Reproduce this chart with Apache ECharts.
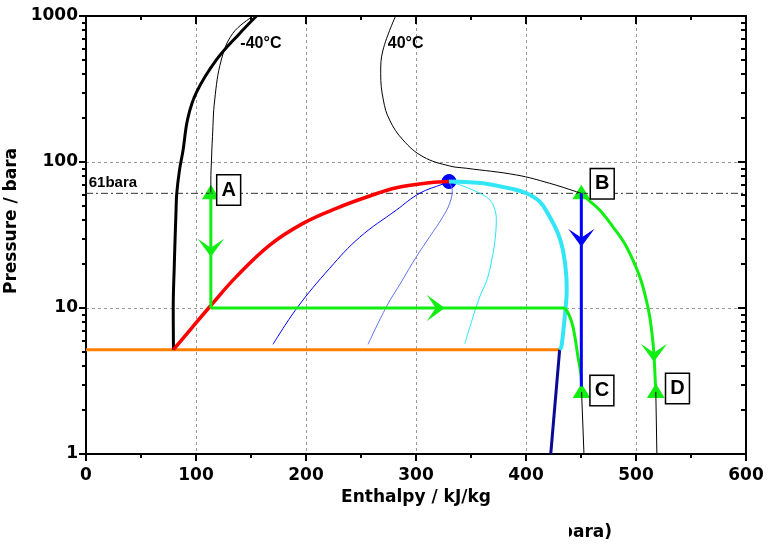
<!DOCTYPE html>
<html>
<head>
<meta charset="utf-8">
<script src="https://cdn.jsdelivr.net/npm/echarts@6/dist/echarts.min.js"></script>
<style>
html, body { margin: 0; padding: 0; background: #fff; }
#chart { width: 772px; height: 549px; }
</style>
</head>
<body>
<div id="chart"></div>
<script>
// all points are [enthalpy kJ/kg, pressure bara]
const meltLine = [[79.5, 5.18], [79.3, 10], [80.3, 20], [81, 30], [81.8, 45], [82.5, 61], [85, 88], [88.2, 120], [92.6, 200], [100.4, 300], [118.5, 500], [139.7, 760], [155, 1000]]
const isoMinus40Liquid = [[113.5, 62], [113.5, 75], [114, 100], [115, 150], [117, 266], [123, 500], [133.4, 760], [150, 975]]
const satLiquid = [[79.5, 5.18], [95.5, 7.2], [112.5, 10.2], [136.7, 16.4], [167, 27], [197.3, 38], [227.6, 48.2], [257.9, 58.5], [282.2, 66.7], [312.5, 72.1], [330, 73.5]]
const satVapor = [[330, 73.5], [345, 73], [361, 71.5], [385.2, 66], [400.4, 61.1], [412.5, 53.5], [421.5, 42.2], [429.1, 32.4], [433.6, 24.9], [436.7, 16.4], [437, 13], [436.1, 10.2], [432.2, 5.43], [430.6, 5.18]]
const sublimation = [[430.6, 5.18], [422.5, 1]]
const triplePoint = [[0, 5.18], [430.6, 5.18]]
const quality1 = [[170, 5.64], [191.8, 10], [221.5, 18.7], [248.8, 30.5], [282.2, 46.9], [303.4, 61.1], [324.5, 70.7], [330, 73.5]]
const quality2 = [[256.4, 5.64], [273.1, 10.2], [286.7, 15.1], [300.4, 22.5], [312.5, 30.8], [324.5, 42.2], [330.6, 52.1], [333, 64], [330, 73.5]]
const quality3 = [[330, 73.5], [342.7, 68.5], [357.9, 61.1], [366, 56], [371, 49], [373, 40], [372, 30], [370, 23.7], [365, 16], [357.9, 11.9], [351, 8.3], [344.3, 5.67]]
const iso40 = [[281.5, 1000], [270, 585], [267.9, 405], [270.3, 266], [276, 194], [288.2, 141.5], [306.4, 108.7], [330.6, 93.9], [345.8, 90.6], [391.3, 81.5], [421.5, 71.5], [445.8, 62.6], [450.3, 61]]
const tailC = [[450.5, 2.67], [452.7, 1]]
const tailD = [[518, 2.67], [519, 1]]
const line61 = [[0, 61], [600, 61]]

// cycle
const pathA = [[113.5, 61], [113.5, 10]]
const evaporator = [[113.5, 10], [435.2, 10]]
const superheatC = [[435.2, 10], [439, 9], [442.7, 7.45], [447.3, 4.6], [450.4, 3.2], [450.5, 2.67]]
const pathBD = [[450.3, 61], [458, 54], [467, 46.9], [479, 36], [491.3, 26.3], [503.4, 16.4], [509.4, 11.3], [512.5, 8.7], [515.5, 5.73], [516.5, 4.5], [518, 2.67]]
const pathBC = [[450.3, 61], [450.3, 2.9]]

const criticalPoint = [[330, 73.5]]
const triangles = [[113.5, 62], [450.3, 62], [450.5, 2.7], [518, 2.7]]
const greenDownArrows = [[113.5, 25.6], [516.3, 4.9]]
const greenRightArrows = [[318.5, 10]]
const blueDownArrows = [[450.3, 30]]

const boxNames = ['A', 'B', 'C', 'D']
const boxH = [129.7, 469.3, 469, 537.7]
const boxP = [64.3, 70.9, 2.72, 2.81]
const noteNames = ['-40°C', '40°C']
const noteH = [159, 290.6]
const noteP = [643, 643]

const xMin = 0, xMax = 600, xStep = 100
const yMin = 1, yMax = 1000
const yMinorTicks = [2, 3, 4, 5, 6, 7, 8, 9, 20, 30, 40, 50, 60, 70, 80, 90, 200, 300, 400, 500, 600, 700, 800, 900]

const downArrow = 'path://M0,0 L11,16 L22,0 L11,8 Z'
const rightArrow = 'path://M0,0 L16,11 L0,22 L8,11 Z'

const chart = echarts.init(document.getElementById('chart'))

const curve = (data, color, width, smooth, extra) => Object.assign({
  type: 'line',
  data: data,
  symbol: 'none',
  smooth: smooth,
  silent: true,
  lineStyle: { color: color, width: width }
}, extra || {})

const marks = (data, symbol, size, color) => ({
  type: 'scatter', data: data, symbol: symbol, symbolSize: size, silent: true,
  itemStyle: { color: color, opacity: 1, borderColor: color, borderWidth: 1 }
})

const axisLine = { show: true, lineStyle: { color: '#000', width: 2 } }
const tickStyle = { color: '#000', width: 2 }
const titleFont = { color: '#000', fontFamily: 'DejaVu Sans', fontWeight: 'bold', fontSize: 17 }
const tickFont = { color: '#000', fontFamily: 'DejaVu Sans', fontWeight: 'bold', fontSize: 17 }
const labelFont = { color: '#000', fontFamily: 'Liberation Sans', fontWeight: 'bold' }

const option = {
  backgroundColor: '#fff',
  animation: false,
  grid: { left: 86, right: 26, top: 16, bottom: 95, containLabel: false, outerBoundsMode: 'none' },
  xAxis: [
    {
      type: 'value', min: xMin, max: xMax, interval: xStep, position: 'bottom',
      axisLine: axisLine,
      axisTick: { length: 7, lineStyle: tickStyle },
      minorTick: { show: true, splitNumber: 2, length: 4, lineStyle: tickStyle },
      axisLabel: Object.assign({ margin: 13 }, tickFont),
      splitLine: { show: true, lineStyle: { color: '#999', type: [3, 3], width: 1 } },
      name: 'Enthalpy / kJ/kg', nameLocation: 'middle', nameGap: 35,
      nameTextStyle: titleFont
    },
    {
      type: 'value', min: xMin, max: xMax, interval: xStep, position: 'top',
      axisLine: axisLine,
      axisTick: { inside: true, length: 8, lineStyle: tickStyle },
      minorTick: { show: true, splitNumber: 2, length: 4, lineStyle: tickStyle },
      axisLabel: { show: false },
      splitLine: { show: false }
    }
  ],
  yAxis: [
    {
      type: 'log', logBase: 10, min: yMin, max: yMax, position: 'left',
      axisLine: axisLine,
      axisTick: { length: 7, lineStyle: tickStyle },
      axisLabel: Object.assign({ margin: 8, formatter: v => String(v) }, tickFont),
      splitLine: { show: true, lineStyle: { color: '#999', type: [3, 3], width: 1 } },
      name: 'Pressure / bara', nameLocation: 'middle', nameGap: 34,
      nameTextStyle: Object.assign({ padding: [0, 0, 0, 28] }, titleFont)
    },
    {
      type: 'log', logBase: 10, min: yMin, max: yMax, position: 'left',
      axisLine: { show: false },
      axisTick: { length: 4, lineStyle: tickStyle, customValues: yMinorTicks },
      axisLabel: { show: false },
      splitLine: { show: false }
    },
    {
      type: 'log', logBase: 10, min: yMin, max: yMax, position: 'right',
      axisLine: axisLine,
      axisTick: { inside: true, length: 8, lineStyle: tickStyle },
      axisLabel: { show: false },
      splitLine: { show: false }
    },
    {
      type: 'log', logBase: 10, min: yMin, max: yMax, position: 'right',
      axisLine: { show: false },
      axisTick: { inside: true, length: 5, lineStyle: tickStyle, customValues: yMinorTicks },
      axisLabel: { show: false },
      splitLine: { show: false }
    }
  ],
  graphic: [
    {
      type: 'text', right: 160, top: 524, z: 10,
      style: { text: 'bara)', fill: '#000', font: 'bold 17px "DejaVu Sans"' }
    },
    {
      type: 'rect', left: 560, top: 522, z: 11,
      shape: { width: 9, height: 24 }, style: { fill: '#fff' }
    }
  ],
  series: [
    curve(line61, '#333', 1, false, { lineStyle: { color: '#333', width: 1, type: [7, 3, 2, 3] } }),
    curve(isoMinus40Liquid, '#000', 1, 0.4),
    curve(iso40, '#000', 1, 0.4),
    curve(tailC, '#000', 1, false),
    curve(tailD, '#000', 1, false),
    curve(quality1, '#0000ff', 1, 0.4),
    curve(quality2, '#5f73f5', 1, 0.4),
    curve(quality3, '#22e8f8', 1, 0.4),
    curve(triplePoint, '#ff8000', 3, false),
    curve(sublimation, '#0a0a96', 3, false),
    curve(meltLine, '#000', 3, 0.4),
    curve(satLiquid, '#ff0000', 3.5, 0.4),
    curve(satVapor, '#33e6f6', 4, 0.4),
    curve(pathA, '#11ee11', 3, false),
    curve(evaporator, '#11ee11', 3, false),
    curve(superheatC, '#11ee11', 3, 0.4),
    curve(pathBD, '#11ee11', 3, 0.4),
    curve(pathBC, '#0000ff', 3, false),
    marks(criticalPoint, 'circle', 14, '#0000ff'),
    marks(triangles, 'triangle', [16, 13], '#11ee11'),
    marks(greenDownArrows, downArrow, [22, 15], '#11ee11'),
    marks(greenRightArrows, rightArrow, [15, 22], '#11ee11'),
    marks(blueDownArrows, downArrow, [22, 15], '#0000ff'),
    {
      type: 'scatter', silent: true, symbolSize: 1, z: 5,
      data: boxNames.map((n, i) => [boxH[i], boxP[i], n]),
      itemStyle: { color: 'rgba(0,0,0,0)', opacity: 1 },
      label: Object.assign({
        show: true, position: 'inside', formatter: p => p.value[2],
        fontSize: 20, lineHeight: 20, backgroundColor: '#fff',
        borderColor: '#000', borderWidth: 1.5, padding: [5, 4, 4, 4]
      }, labelFont)
    },
    {
      type: 'scatter', silent: true, symbolSize: 1, z: 5,
      data: noteNames.map((n, i) => [noteH[i], noteP[i], n]),
      itemStyle: { color: 'rgba(0,0,0,0)', opacity: 1 },
      label: Object.assign({
        show: true, position: 'inside', formatter: p => p.value[2], fontSize: 16
      }, labelFont)
    },
    {
      type: 'scatter', silent: true, symbolSize: 1, z: 5,
      data: [[2, 71.8, '61bara']],
      itemStyle: { color: 'rgba(0,0,0,0)', opacity: 1 },
      label: Object.assign({
        show: true, position: 'right', distance: 0, formatter: p => p.value[2], fontSize: 15
      }, labelFont)
    }
  ]
}

chart.setOption(option)
window.addEventListener('resize', () => chart.resize())
</script>
</body>
</html>
